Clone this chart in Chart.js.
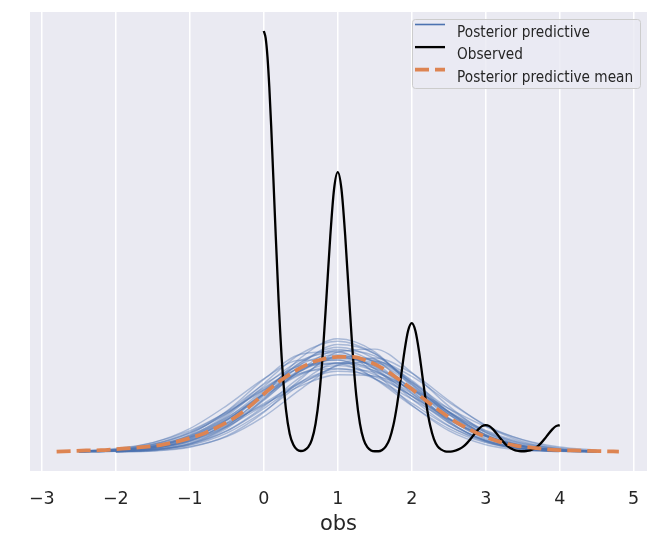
<!DOCTYPE html>
<html><head><meta charset="utf-8">
<script src="https://cdn.jsdelivr.net/npm/chart.js@4.4.1/dist/chart.umd.min.js"></script>
<style>html,body{margin:0;padding:0;background:#fff;}#wrap{position:relative;width:662px;height:544px;}</style>
</head><body><div id="wrap"><canvas id="c" width="662" height="544"></canvas></div>
<script>
const xTickValues = [-3, -2, -1, 0, 1, 2, 3, 4, 5];
const xTickLabels = ['\u22123', '\u22122', '\u22121', '0', '1', '2', '3', '4', '5'];
const xAxisLabel = 'obs';
const legendLabels = ['Posterior predictive', 'Observed', 'Posterior predictive mean'];

const obsX = [0,0.025,0.05,0.075,0.1,0.15,0.2,0.25,0.3,0.35,0.4,0.45,0.5,0.55,0.6,0.65,0.7,0.75,0.8,0.85,0.9,0.95,
  1,1.05,1.1,1.15,1.2,1.25,1.3,1.35,1.4,1.45,1.5,1.55,1.6,1.65,1.7,1.75,1.8,1.85,1.9,1.95,
  2,2.05,2.1,2.15,2.2,2.25,2.3,2.35,2.4,2.45,2.5,2.55,2.6,2.65,2.7,2.75,2.8,2.85,2.9,2.95,
  3,3.05,3.1,3.15,3.2,3.25,3.3,3.35,3.4,3.45,3.5,3.55,3.6,3.65,3.7,3.75,3.8,3.85,3.9,3.95,4];
const obsDensity = [1.558,1.532,1.462,1.349,1.206,0.877,0.562,0.315,0.157,0.068,0.027,0.009,0.004,0.007,0.018,0.046,0.105,0.210,0.374,0.585,0.803,0.973,
  1.036,0.973,0.803,0.585,0.374,0.210,0.105,0.046,0.018,0.006,0.003,0.003,0.008,0.021,0.048,0.097,0.172,0.269,0.370,0.448,
  0.477,0.448,0.370,0.269,0.172,0.097,0.048,0.021,0.009,0.003,0.002,0.003,0.006,0.012,0.021,0.034,0.050,0.068,0.084,0.096,
  0.100,0.096,0.084,0.068,0.050,0.034,0.021,0.012,0.006,0.004,0.003,0.004,0.006,0.012,0.021,0.034,0.050,0.068,0.084,0.096,0.100];

const meanX = [-2.8,-2.6,-2.4,-2.2,-2,-1.8,-1.6,-1.4,-1.2,-1,-0.8,-0.6,-0.4,-0.2,0,0.2,0.4,0.6,0.8,1,
  1.2,1.4,1.6,1.8,2,2.2,2.4,2.6,2.8,3,3.2,3.4,3.6,3.8,4,4.2,4.4,4.6,4.8];
const meanDensity = [0.002,0.004,0.006,0.007,0.011,0.015,0.019,0.026,0.037,0.052,0.070,0.096,0.126,0.167,0.215,0.259,0.296,0.326,0.344,0.352,
  0.352,0.337,0.311,0.274,0.233,0.189,0.148,0.111,0.081,0.056,0.037,0.024,0.017,0.011,0.007,0.006,0.004,0.003,0.002];

const ppX = [-2.5,-2,-1.5,-1,-0.5,0,0.5,1,1.5,2,2.5,3,3.5,4,4.5];
const ppDensities = [
  [0.001,0.003,0.014,0.043,0.105,0.202,0.301,0.350,0.316,0.223,0.122,0.052,0.017,0.005,0.001],
  [0.001,0.005,0.018,0.056,0.133,0.243,0.340,0.368,0.307,0.197,0.098,0.037,0.011,0.003,null],
  [null,0.002,0.008,0.027,0.078,0.168,0.278,0.352,0.343,0.256,0.147,0.064,0.022,0.005,0.001],
  [0.002,0.007,0.022,0.058,0.122,0.208,0.287,0.320,0.287,0.208,0.122,0.058,0.022,0.007,0.002],
  [null,0.001,0.007,0.030,0.088,0.196,0.324,0.398,0.364,0.248,0.126,0.047,0.013,0.003,null],
  [0.002,0.008,0.027,0.070,0.144,0.238,0.312,0.327,0.273,0.181,0.096,0.041,0.014,0.004,0.001],
  [null,0.002,0.009,0.030,0.078,0.161,0.259,0.330,0.330,0.259,0.161,0.078,0.030,0.009,0.002],
  [null,0.003,0.012,0.041,0.109,0.218,0.331,0.380,0.331,0.218,0.109,0.041,0.012,0.003,null],
  [0.001,0.005,0.017,0.046,0.101,0.180,0.260,0.307,0.295,0.230,0.146,0.075,0.032,0.011,0.003],
  [0.001,0.005,0.018,0.054,0.126,0.229,0.325,0.360,0.310,0.207,0.108,0.044,0.014,0.003,0.001],
  [null,0.001,0.004,0.018,0.060,0.147,0.270,0.370,0.381,0.294,0.170,0.073,0.024,0.006,0.001],
  [0.001,0.005,0.021,0.065,0.152,0.269,0.362,0.372,0.292,0.174,0.079,0.027,0.007,0.002,null],
  [0.001,0.004,0.014,0.041,0.094,0.173,0.255,0.299,0.279,0.208,0.123,0.058,0.022,0.007,0.002],
  [0.001,0.005,0.020,0.060,0.139,0.254,0.364,0.410,0.364,0.254,0.139,0.060,0.020,0.005,0.001],
  [0.003,0.010,0.030,0.075,0.150,0.250,0.320,0.330,0.300,0.230,0.140,0.065,0.020,0.006,null],
  [null,0.002,0.008,0.025,0.070,0.150,0.250,0.320,0.335,0.280,0.185,0.100,0.045,0.015,0.004],
  [0.002,0.006,0.016,0.040,0.098,0.195,0.300,0.355,0.335,0.250,0.140,0.060,0.020,0.006,0.002],
  [null,0.003,0.012,0.048,0.120,0.215,0.300,0.345,0.338,0.265,0.150,0.062,0.018,0.004,null],
  [0.004,0.013,0.035,0.079,0.148,0.229,0.292,0.309,0.271,0.196,0.118,0.058,0.024,0.008,0.002],
  [0.003,0.008,0.023,0.054,0.106,0.176,0.245,0.286,0.281,0.232,0.161,0.094,0.046,0.019,0.007],
  [null,0.001,0.008,0.031,0.095,0.213,0.349,0.419,0.371,0.241,0.115,0.040,0.010,0.002,null],
  [0.003,0.011,0.035,0.087,0.172,0.271,0.340,0.340,0.271,0.172,0.087,0.035,0.011,0.003,null],
  [null,0.001,0.005,0.020,0.057,0.131,0.233,0.323,0.348,0.292,0.191,0.097,0.039,0.012,0.003],
  [0.002,0.009,0.028,0.071,0.142,0.234,0.313,0.340,0.300,0.216,0.126,0.060,0.023,0.007,0.002],
  [null,0.002,0.010,0.035,0.092,0.191,0.305,0.376,0.356,0.261,0.147,0.064,0.021,0.006,0.001],
  [0.002,0.007,0.020,0.052,0.118,0.214,0.305,0.352,0.318,0.236,0.150,0.080,0.035,0.012,0.003],
  [null,0.004,0.015,0.048,0.117,0.224,0.333,0.388,0.345,0.229,0.113,0.042,0.012,0.003,null],
  [0.003,0.009,0.025,0.062,0.128,0.214,0.290,0.330,0.310,0.240,0.150,0.072,0.026,0.008,0.002]
];

const toPts = (xs, ys) => xs.map((x, i) => ({x: x, y: ys[i]}));

const datasets = [];
datasets.push({label: legendLabels[2], data: toPts(meanX, meanDensity), borderColor: '#DD8452', borderWidth: 3.75,
  borderDash: [14, 6], borderCapStyle: 'butt', order: 0, legendRank: 2, legendColor: '#DD8452'});
datasets.push({label: legendLabels[1], data: toPts(obsX, obsDensity), borderColor: '#000000', borderWidth: 2.3,
  order: 1, legendRank: 1, legendColor: '#000000'});
ppDensities.forEach((ys, k) => {
  datasets.push({label: k === 0 ? legendLabels[0] : '', data: toPts(ppX, ys), borderColor: 'rgba(76,114,176,0.42)',
    borderWidth: 1.4, order: 2, legendRank: k === 0 ? 0 : -1, legendColor: '#4C72B0'});
});
datasets.forEach(d => { d.pointRadius = 0; d.fill = false; d.cubicInterpolationMode = 'monotone'; d.spanGaps = false; });

const bgPlugin = {
  id: 'bg',
  beforeDraw(chart) {
    const {ctx, chartArea: a} = chart;
    ctx.save();
    ctx.fillStyle = '#EAEAF2';
    ctx.fillRect(a.left, a.top, a.right - a.left, a.bottom - a.top);
    ctx.restore();
  }
};

const legendPlugin = {
  id: 'boxLegend',
  afterDraw(chart) {
    const ctx = chart.ctx;
    const bx = 412.5, by = 19.5, bw = 228, bh = 69, r = 3;
    ctx.save();
    ctx.beginPath();
    ctx.moveTo(bx + r, by);
    ctx.arcTo(bx + bw, by, bx + bw, by + bh, r);
    ctx.arcTo(bx + bw, by + bh, bx, by + bh, r);
    ctx.arcTo(bx, by + bh, bx, by, r);
    ctx.arcTo(bx, by, bx + bw, by, r);
    ctx.closePath();
    ctx.fillStyle = 'rgba(234,234,242,0.8)';
    ctx.fill();
    ctx.strokeStyle = '#cccccc';
    ctx.lineWidth = 1;
    ctx.stroke();
    const items = chart.data.datasets.filter(d => d.legendRank >= 0).sort((a, b) => a.legendRank - b.legendRank);
    items.forEach((d, i) => {
      const ly = 24.5 + i * 22.6;
      ctx.beginPath();
      ctx.setLineDash(d.borderDash || []);
      ctx.lineCap = 'butt';
      ctx.strokeStyle = d.legendColor;
      ctx.lineWidth = d.legendRank === 0 ? 1.6 : d.borderWidth;
      ctx.moveTo(415, ly);
      ctx.lineTo(445, ly);
      ctx.stroke();
      ctx.setLineDash([]);
      ctx.save();
      ctx.translate(457, 36.7 + i * 22.5);
      ctx.scale(1, 1.22);
      ctx.font = '13.7px "DejaVu Sans"';
      ctx.fillStyle = '#262626';
      ctx.textBaseline = 'alphabetic';
      ctx.textAlign = 'left';
      ctx.fillText(d.label, 0, 0);
      ctx.restore();
    });
    ctx.restore();
  }
};

new Chart(document.getElementById('c'), {
  type: 'line',
  data: {datasets: datasets},
  plugins: [bgPlugin, legendPlugin],
  options: {
    responsive: false,
    animation: false,
    devicePixelRatio: 1,
    layout: {padding: {left: 30, right: 15, top: 12, bottom: 0}},
    plugins: {legend: {display: false}, tooltip: {enabled: false}},
    scales: {
      x: {
        type: 'linear', min: -3.16, max: 5.18,
        afterBuildTicks: (s) => { s.ticks = xTickValues.map(v => ({value: v})); },
        afterFit: (s) => { s.height = 73; },
        grid: {color: '#ffffff', lineWidth: 1.5, drawTicks: false},
        border: {display: false},
        ticks: {
          padding: 18, autoSkip: false, maxRotation: 0, color: '#262626',
          font: {family: 'DejaVu Sans', size: 17.5},
          callback: (v, i) => xTickLabels[i]
        },
        title: {display: true, text: xAxisLabel, color: '#262626',
          font: {family: 'DejaVu Sans', size: 21}, padding: {top: 0, bottom: 7}}
      },
      y: {type: 'linear', display: false, min: -0.070, max: 1.628}
    }
  }
});
</script></body></html>
